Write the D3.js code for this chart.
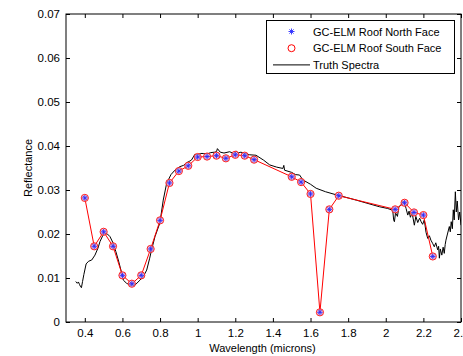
<!DOCTYPE html>
<html>
<head>
<meta charset="utf-8">
<script src="https://cdn.jsdelivr.net/npm/d3@7"></script>
<style>
  body { margin: 0; background: #fff; }
  svg text { font-family: "Liberation Sans", Arial, sans-serif; font-size: 11px; fill: #000; }
</style>
</head>
<body>
<div id="container"></div>
<script>
// sampled wavelengths (microns) of the GC-ELM estimates
const bandWavelengths = [0.40, 0.45, 0.50, 0.55, 0.60, 0.65, 0.70, 0.75, 0.80, 0.85, 0.90, 0.95,
  1.00, 1.05, 1.10, 1.15, 1.20, 1.25, 1.30, 1.50, 1.55, 1.60, 1.65, 1.70, 1.75, 2.05, 2.10, 2.15, 2.20, 2.25];

const northFace = [0.0282, 0.0172, 0.0205, 0.0172, 0.0106, 0.0087, 0.0106, 0.0166, 0.0231, 0.0316, 0.0343, 0.0355,
  0.0375, 0.0376, 0.0378, 0.0372, 0.0380, 0.0378, 0.0369, 0.0330, 0.0318, 0.0291, 0.0022, 0.0256, 0.0287,
  0.0256, 0.0271, 0.0249, 0.0243, 0.0149];

const southFace = [0.0282, 0.0172, 0.0205, 0.0172, 0.0106, 0.0087, 0.0106, 0.0166, 0.0231, 0.0316, 0.0343, 0.0355,
  0.0375, 0.0376, 0.0378, 0.0372, 0.0380, 0.0378, 0.0369, 0.0330, 0.0318, 0.0291, 0.0022, 0.0256, 0.0287,
  0.0256, 0.0271, 0.0249, 0.0243, 0.0149];

// truth spectrum
const truthWavelengths = [0.352, 0.360, 0.366, 0.372, 0.378, 0.382, 0.388, 0.395, 0.407, 0.420, 0.437, 0.454,
  0.470, 0.481, 0.495, 0.507, 0.520, 0.534, 0.551, 0.565, 0.578, 0.592, 0.605, 0.622, 0.640, 0.667, 0.693,
  0.712, 0.729, 0.745, 0.755, 0.773, 0.799, 0.817, 0.835, 0.858, 0.879, 0.905, 0.925, 0.941, 0.955, 0.967,
  0.985, 1.000, 1.015, 1.030, 1.050, 1.070, 1.090, 1.100, 1.105, 1.120, 1.140, 1.170, 1.190, 1.206, 1.215,
  1.230, 1.250, 1.277, 1.310, 1.350, 1.383, 1.420, 1.453, 1.458, 1.462, 1.500, 1.520, 1.542, 1.559, 1.600,
  1.630, 1.680, 1.737, 1.800, 1.843, 1.900, 1.966, 2.010, 2.037, 2.042, 2.046, 2.052, 2.062, 2.070, 2.081,
  2.090, 2.100, 2.108, 2.117, 2.124, 2.131, 2.140, 2.152, 2.160, 2.170, 2.180, 2.188, 2.196, 2.205, 2.214,
  2.223, 2.232, 2.240, 2.250, 2.258, 2.266, 2.276, 2.281, 2.285, 2.290, 2.298, 2.305, 2.311, 2.316, 2.320,
  2.328, 2.338, 2.343, 2.348, 2.354, 2.359, 2.364, 2.370, 2.375, 2.380, 2.387, 2.393, 2.400];

const truthValues = [0.0092, 0.0088, 0.0091, 0.0085, 0.0080, 0.0078, 0.0092, 0.0108, 0.0132, 0.0138, 0.0141, 0.0152,
  0.0168, 0.0183, 0.0196, 0.0202, 0.0200, 0.0194, 0.0179, 0.0160, 0.0141, 0.0118, 0.0095, 0.0088, 0.0084, 0.0084, 0.0095,
  0.0104, 0.0118, 0.0145, 0.0164, 0.0194, 0.0225, 0.0277, 0.0315, 0.0335, 0.0345, 0.0353, 0.0356, 0.0362, 0.0365, 0.0368,
  0.0381, 0.0380, 0.0383, 0.0383, 0.0382, 0.0385, 0.0386, 0.0387, 0.0394, 0.0386, 0.0384, 0.0387, 0.0383, 0.0388, 0.0384,
  0.0386, 0.0383, 0.0380, 0.0379, 0.0368, 0.0357, 0.0352, 0.0349, 0.0356, 0.0345, 0.0340, 0.0335, 0.0334, 0.0323, 0.0313,
  0.0304, 0.0296, 0.0289, 0.0282, 0.0277, 0.0270, 0.0262, 0.0258, 0.0254, 0.0232, 0.0228, 0.0248, 0.0240, 0.0262, 0.0266,
  0.0274, 0.0270, 0.0258, 0.0243, 0.0252, 0.0238, 0.0248, 0.0220, 0.0240, 0.0226, 0.0236, 0.0228, 0.0222, 0.0232, 0.0204,
  0.0190, 0.0196, 0.0186, 0.0178, 0.0171, 0.0180, 0.0164, 0.0172, 0.0145, 0.0166, 0.0152, 0.0170, 0.0156, 0.0176, 0.0186,
  0.0200, 0.0217, 0.0205, 0.0228, 0.0212, 0.0255, 0.0232, 0.0296, 0.0250, 0.0275, 0.0232, 0.0250, 0.0220];

const xTicks = [0.4, 0.6, 0.8, 1, 1.2, 1.4, 1.6, 1.8, 2, 2.2, 2.4];
const yTicks = [0, 0.01, 0.02, 0.03, 0.04, 0.05, 0.06, 0.07];
const legendLabels = ["GC-ELM Roof North Face", "GC-ELM Roof South Face", "Truth Spectra"];

const width = 463;
const height = 356;
const margin = { top: 14, right: 2, bottom: 34, left: 66 };

const svg = d3.select("#container")
  .append("svg")
  .attr("width", width)
  .attr("height", height);

const x = d3.scaleLinear().domain([0.3, 2.4]).range([margin.left, width - margin.right]);
const y = d3.scaleLinear().domain([0, 0.07]).range([height - margin.bottom, margin.top]);

const plotW = width - margin.right - margin.left;
const plotH = height - margin.bottom - margin.top;

svg.append("clipPath").attr("id", "clip")
  .append("rect")
  .attr("x", margin.left).attr("y", margin.top)
  .attr("width", plotW).attr("height", plotH);

// axes with inward ticks on all four sides
const fmt = d => d === 0 ? "0" : String(+d.toFixed(2));

svg.append("g")
  .attr("transform", `translate(0,${height - margin.bottom})`)
  .call(d3.axisBottom(x).tickValues(xTicks).tickSize(-4).tickPadding(7).tickFormat(fmt))
  .call(g => g.select(".domain").remove());

svg.append("g")
  .attr("transform", `translate(0,${margin.top})`)
  .call(d3.axisTop(x).tickValues(xTicks).tickSize(-4).tickFormat(""))
  .call(g => g.select(".domain").remove());

svg.append("g")
  .attr("transform", `translate(${margin.left},0)`)
  .call(d3.axisLeft(y).tickValues(yTicks).tickSize(-4).tickPadding(6).tickFormat(fmt))
  .call(g => g.select(".domain").remove());

svg.append("g")
  .attr("transform", `translate(${width - margin.right},0)`)
  .call(d3.axisRight(y).tickValues(yTicks).tickSize(-4).tickFormat(""))
  .call(g => g.select(".domain").remove());

svg.selectAll(".tick line").attr("stroke", "#000");
svg.selectAll(".tick text").style("font-size", "11.5px");

// truth spectrum
const truth = truthWavelengths.map((w, i) => [w, truthValues[i]]);
svg.append("path")
  .datum(truth)
  .attr("clip-path", "url(#clip)")
  .attr("fill", "none")
  .attr("stroke", "#000")
  .attr("stroke-width", 1)
  .attr("d", d3.line().x(d => x(d[0])).y(d => y(d[1])));

// GC-ELM estimates
const south = bandWavelengths.map((w, i) => [w, southFace[i]]);
const north = bandWavelengths.map((w, i) => [w, northFace[i]]);

svg.append("path")
  .datum(south)
  .attr("fill", "none")
  .attr("stroke", "#ff0000")
  .attr("stroke-width", 1)
  .attr("d", d3.line().x(d => x(d[0])).y(d => y(d[1])));

function star(g, cx, cy, r) {
  const p = d3.path();
  p.moveTo(cx - r, cy); p.lineTo(cx + r, cy);
  p.moveTo(cx, cy - r); p.lineTo(cx, cy + r);
  const k = r * 0.7;
  p.moveTo(cx - k, cy - k); p.lineTo(cx + k, cy + k);
  p.moveTo(cx - k, cy + k); p.lineTo(cx + k, cy - k);
  g.append("path").attr("d", p.toString()).attr("stroke", "#2a2aff").attr("stroke-width", 0.9).attr("fill", "none");
}

const marks = svg.append("g");
south.forEach(d => {
  marks.append("circle")
    .attr("cx", x(d[0])).attr("cy", y(d[1])).attr("r", 3.6)
    .attr("fill", "#f2b8cc")
    .attr("fill-opacity", 0.7)
    .attr("stroke", "#ff2020").attr("stroke-width", 1);
});
north.forEach(d => star(marks, x(d[0]), y(d[1]), 2.8));

// frame
svg.append("rect")
  .attr("x", margin.left).attr("y", margin.top)
  .attr("width", plotW).attr("height", plotH)
  .attr("fill", "none").attr("stroke", "#000").attr("stroke-width", 1);

// axis labels
svg.append("text")
  .attr("x", (margin.left + width - margin.right) / 2 - 1)
  .attr("y", 352)
  .attr("text-anchor", "middle")
  .text("Wavelength (microns)");

svg.append("text")
  .attr("transform", `translate(32,${(margin.top + height - margin.bottom) / 2}) rotate(-90)`)
  .attr("text-anchor", "middle")
  .text("Reflectance");

// legend
const legend = svg.append("g");
legend.append("rect")
  .attr("x", 266.5).attr("y", 20.5).attr("width", 188).attr("height", 53)
  .attr("fill", "#fff").attr("stroke", "#000");

legendLabels.forEach((label, i) => {
  const ly = 31.5 + i * 16.7;
  legend.append("text").attr("x", 313).attr("y", ly + 4).text(label);
  if (i === 0) star(legend, 291.5, ly, 3);
  if (i === 1) {
    legend.append("circle").attr("cx", 291.5).attr("cy", ly).attr("r", 3.5)
      .attr("fill", "none").attr("stroke", "#ff0000");
  }
  if (i === 2) {
    legend.append("line").attr("x1", 273).attr("x2", 310).attr("y1", ly).attr("y2", ly)
      .attr("stroke", "#000");
  }
});
</script>
</body>
</html>
